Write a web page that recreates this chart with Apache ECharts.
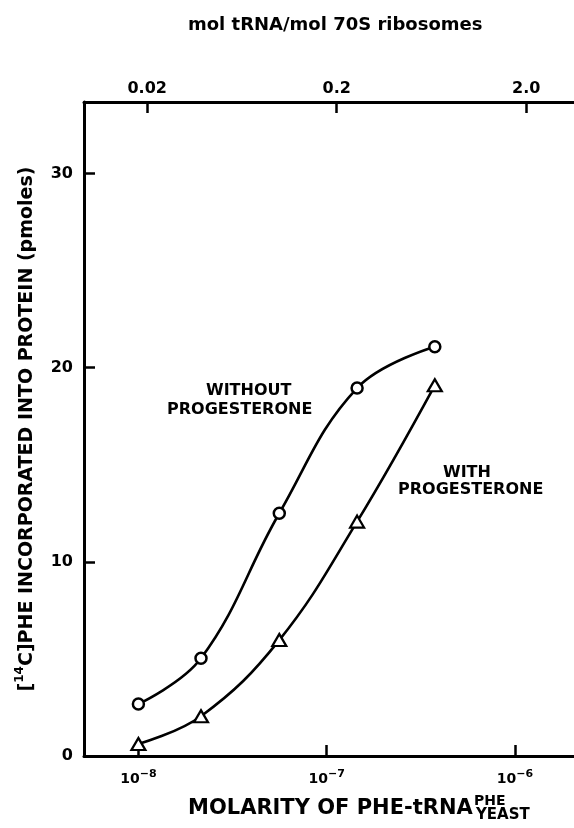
<!DOCTYPE html>
<html>
<head>
<meta charset="utf-8">
<script src="https://cdn.jsdelivr.net/npm/echarts@6/dist/echarts.min.js"></script>
<style>
html,body{margin:0;padding:0;background:#fff;}
#c{width:574px;height:828px;}
</style>
</head>
<body>
<div id="c"></div>
<script>
// ---- data ----
const molarity = [1.0e-8, 2.15e-8, 5.6e-8, 1.45e-7, 3.75e-7];
const withoutProgesterone = [2.68, 5.03, 12.5, 18.95, 21.08];
const withProgesterone = [0.62, 2.05, 5.97, 12.07, 19.09];
const yTickValues = [0, 10, 20, 30];
const bottomTickExponents = [-8, -7, -6];
const topTickValues = [0.02, 0.2, 2.0];
const topTickLabels = ['0.02', '0.2', '2.0'];

// axis ranges
const xMin = 5.142e-9, xMax = 2.057e-6;
const topMin = 0.009278, topMax = 3.575;
const yMin = 0, yMax = 33.68;

const FONT = 'DejaVu Sans';
const chart = echarts.init(document.getElementById('c'), null, {renderer: 'canvas'});

const withoutData = molarity.map((m, i) => [m, withoutProgesterone[i]]);
const withData = molarity.map((m, i) => [m, withProgesterone[i]]);

const lineStyleBase = {color: '#000', width: 2.6};
const axisLineStyle = {color: '#000', width: 3};
const tickStyle = {color: '#000', width: 2.5};

chart.setOption({
  backgroundColor: '#fff',
  animation: false,
  grid: {left: 84, right: 0, top: 102, bottom: 72, containLabel: false},
  xAxis: [
    {
      type: 'log', logBase: 10, min: xMin, max: xMax, position: 'bottom',
      axisLine: {show: true, onZero: false, lineStyle: axisLineStyle},
      axisTick: {show: true, inside: true, length: 11, lineStyle: tickStyle},
      minorTick: {show: false},
      splitLine: {show: false},
      axisLabel: {
        showMinLabel: false, showMaxLabel: false, margin: 13,
        formatter: function (v) {
          const e = Math.log10(v);
          const r = Math.round(e);
          if (Math.abs(e - r) > 1e-6 || bottomTickExponents.indexOf(r) < 0) return '';
          return '{b|10}{s|\u2212' + (-r) + '}';
        },
        rich: {
          b: {fontFamily: FONT, fontWeight: 'bold', fontSize: 14, color: '#000', lineHeight: 21},
          s: {fontFamily: FONT, fontWeight: 'bold', fontSize: 11, color: '#000', verticalAlign: 'top'}
        }
      }
    },
    {
      type: 'value', position: 'top',
      min: Math.log10(topMin), max: Math.log10(topMax),
      axisLine: {show: true, onZero: false, lineStyle: axisLineStyle},
      axisTick: {show: true, inside: true, length: 11, lineStyle: tickStyle,
                 customValues: topTickValues.map(v => Math.log10(v))},
      splitLine: {show: false},
      axisLabel: {
        customValues: topTickValues.map(v => Math.log10(v)),
        margin: 5,
        fontFamily: FONT, fontWeight: 'bold', fontSize: 16, color: '#000',
        formatter: function (v) {
          for (let i = 0; i < topTickValues.length; i++) {
            if (Math.abs(Math.log10(topTickValues[i]) - v) < 1e-6) return topTickLabels[i];
          }
          return '';
        }
      }
    }
  ],
  yAxis: [{
    type: 'value', min: yMin, max: yMax, position: 'left',
    axisLine: {show: true, onZero: false, lineStyle: axisLineStyle},
    axisTick: {show: true, inside: true, length: 11, lineStyle: tickStyle, customValues: yTickValues},
    splitLine: {show: false},
    axisLabel: {customValues: yTickValues, margin: 11, fontFamily: FONT, fontWeight: 'bold', fontSize: 16, color: '#000'},
    name: '[{sup|14}C]PHE INCORPORATED INTO PROTEIN (pmoles)',
    nameLocation: 'middle', nameRotate: 90, nameGap: 41,
    nameTextStyle: {
      fontFamily: FONT, fontWeight: 'bold', fontSize: 19, color: '#000', lineHeight: 26,
      rich: {
        sup: {fontFamily: FONT, fontWeight: 'bold', fontSize: 12, color: '#000', verticalAlign: 'top'}
      }
    }
  }],
  series: [
    {
      name: 'WITHOUT PROGESTERONE', type: 'line', xAxisIndex: 0, yAxisIndex: 0,
      data: withoutData, smooth: 0.4,
      symbol: 'circle', symbolSize: 11,
      itemStyle: {color: '#fff', borderColor: '#000', borderWidth: 2.5},
      lineStyle: lineStyleBase, z: 3
    },
    {
      name: 'WITH PROGESTERONE', type: 'line', xAxisIndex: 0, yAxisIndex: 0,
      data: withData, smooth: 0.4,
      symbol: 'triangle', symbolSize: [14, 12],
      itemStyle: {color: '#fff', borderColor: '#000', borderWidth: 2.2},
      lineStyle: lineStyleBase, z: 3
    }
  ],
  graphic: [
    {type: 'text', left: 188, top: 16, style: {text: 'mol tRNA/mol 70S ribosomes', font: 'bold 18px "DejaVu Sans"', fill: '#000'}},
    {type: 'text', left: 206, top: 383, style: {text: 'WITHOUT', font: 'bold 16px "DejaVu Sans"', fill: '#000'}},
    {type: 'text', left: 167, top: 402, style: {text: 'PROGESTERONE', font: 'bold 16px "DejaVu Sans"', fill: '#000'}},
    {type: 'text', left: 443, top: 465, style: {text: 'WITH', font: 'bold 16px "DejaVu Sans"', fill: '#000'}},
    {type: 'text', left: 398, top: 482, style: {text: 'PROGESTERONE', font: 'bold 16px "DejaVu Sans"', fill: '#000'}},
    {type: 'text', left: 188, top: 798, style: {text: 'MOLARITY OF PHE-tRNA', font: 'bold 21px "DejaVu Sans"', fill: '#000'}},
    {type: 'text', left: 474, top: 794, style: {text: 'PHE', font: 'bold 14px "DejaVu Sans"', fill: '#000'}},
    {type: 'text', left: 476, top: 808, style: {text: 'YEAST', font: 'bold 15px "DejaVu Sans"', fill: '#000'}}
  ]
});
</script>
</body>
</html>
